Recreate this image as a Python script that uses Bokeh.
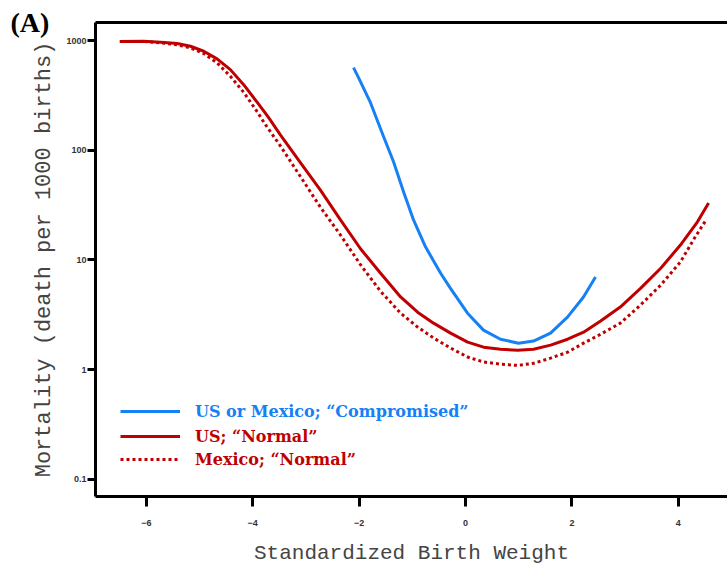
from bokeh.plotting import figure
from bokeh.models import (FixedTicker, BasicTickFormatter, LinearAxis, Legend,
                          LegendItem, Range1d)
from bokeh.embed import file_html
from bokeh.resources import INLINE

# ---- data ----
x_us = [-6.5, -6.05, -5.73, -5.42, -5.17, -4.92, -4.67, -4.42, -4.17, -3.91, -3.70,
        -3.48, -3.1, -2.73, -2.35, -1.97, -1.6, -1.22, -0.9, -0.6, -0.28, 0.04,
        0.34, 0.66, 0.98, 1.28, 1.6, 1.92, 2.22, 2.54, 2.91, 3.29, 3.67, 4.04,
        4.36, 4.57]
y_us = [990, 994, 973, 946, 894, 805, 686, 547, 399, 273, 199,
        139, 77, 43.6, 23.2, 12.6, 7.6, 4.6, 3.34, 2.65, 2.15, 1.78,
        1.60, 1.53, 1.50, 1.53, 1.67, 1.89, 2.19, 2.77, 3.72, 5.5, 8.4, 13.7,
        22.3, 33.2]

x_mx = [-6.49, -6.05, -5.73, -5.42, -5.17, -4.92, -4.67, -4.42, -4.17, -3.92, -3.76,
        -3.48, -3.1, -2.73, -2.35, -1.97, -1.6, -1.22, -0.9, -0.6, -0.28, 0.04,
        0.34, 0.66, 0.98, 1.28, 1.6, 1.92, 2.22, 2.54, 2.91, 3.29, 3.67, 4.04,
        4.32, 4.51]
y_mx = [990, 988, 961, 921, 865, 767, 631, 475, 340, 227, 172,
        110, 57.5, 30.5, 16.9, 9.0, 5.2, 3.27, 2.44, 1.94, 1.57, 1.30,
        1.17, 1.12, 1.09, 1.14, 1.27, 1.44, 1.74, 2.10, 2.65, 3.88, 5.9, 9.6,
        16.3, 22.7]

x_comp = [-2.105, -2.011, -1.786, -1.541, -1.353, -1.165, -0.977, -0.752, -0.47,
          -0.282, 0.038, 0.338, 0.658, 0.996, 1.278, 1.598, 1.917, 2.218, 2.444]
y_comp = [571, 462, 273, 134, 78.9, 42.0, 23.2, 13.2, 7.6,
          5.5, 3.27, 2.29, 1.89, 1.74, 1.82, 2.15, 3.01, 4.59, 6.99]

x_ticks = [-6, -4, -2, 0, 2, 4]
y_ticks = [0.1, 1, 10, 100, 1000]
legend_labels = ["US or Mexico; \u201cCompromised\u201d", "US; \u201cNormal\u201d",
                 "Mexico; \u201cNormal\u201d"]
x_title = "Standardized Birth Weight"
y_title = "Mortality (death per 1000 births)"
panel_tag = "(A)"

X_START, X_END = -6.955, 4.925
Y_START, Y_END = 0.0693, 1473

BLUE = "#1680f5"
RED = "#c00000"

p = figure(width=727, height=569, output_backend="svg", toolbar_location=None,
           y_axis_type="log",
           x_range=Range1d(X_START, X_END), y_range=Range1d(Y_START, Y_END),
           min_border_left=95, min_border_right=0, min_border_top=22,
           min_border_bottom=73)
p.outline_line_color = None
p.grid.visible = False
p.background_fill_color = "white"
p.border_fill_color = "white"

# panel tag "(A)" as the title, pulled into the top-left corner
p.title.text = panel_tag
p.title.align = "left"
p.title.offset = -85
p.title.standoff = -30
p.title.text_font = "Liberation Serif"
p.title.text_font_style = "bold"
p.title.text_font_size = "28px"
p.title.text_color = "black"

# x axis
xa = p.xaxis[0]
xa.ticker = FixedTicker(ticks=x_ticks)
xa.axis_line_width = 3
xa.major_tick_line_width = 3
xa.major_tick_out = 10
xa.major_tick_in = 0
xa.minor_tick_line_color = None
xa.major_label_text_font = "Liberation Sans"
xa.major_label_text_font_style = "bold"
xa.major_label_text_font_size = "9px"
xa.major_label_text_color = "#333333"
xa.major_label_standoff = 13
xa.axis_label = x_title
xa.axis_label_text_font = "Liberation Mono"
xa.axis_label_text_font_style = "normal"
xa.axis_label_text_font_size = "21px"
xa.axis_label_text_color = "#444444"
xa.axis_label_standoff = 13

# y axis
ya = p.yaxis[0]
ya.ticker = FixedTicker(ticks=y_ticks)
ya.formatter = BasicTickFormatter()
ya.axis_line_width = 3
ya.major_tick_line_width = 3
ya.major_tick_out = 8
ya.major_tick_in = 0
ya.minor_tick_line_color = None
ya.major_label_text_font = "Liberation Sans"
ya.major_label_text_font_style = "bold"
ya.major_label_text_font_size = "9px"
ya.major_label_text_color = "#333333"
ya.major_label_standoff = 1
ya.axis_label = y_title
ya.axis_label_text_font = "Liberation Mono"
ya.axis_label_text_font_style = "normal"
ya.axis_label_text_font_size = "22px"
ya.axis_label_text_color = "#444444"
ya.axis_label_standoff = 6

# top border line
top = LinearAxis(axis_line_width=3, major_tick_line_color=None,
                 minor_tick_line_color=None, major_label_text_font_size="0px",
                 ticker=FixedTicker(ticks=[]))
p.add_layout(top, "above")

r_comp = p.line(x_comp, y_comp, line_color=BLUE, line_width=3, line_join="round")
r_us = p.line(x_us, y_us, line_color=RED, line_width=3, line_join="round")
r_mx = p.line(x_mx, y_mx, line_color=RED, line_width=3, line_dash="3 3",
              line_join="round")

for r, lab, col, yl in [(r_comp, legend_labels[0], BLUE, 75),
                        (r_us, legend_labels[1], RED, 50),
                        (r_mx, legend_labels[2], RED, 27)]:
    leg = Legend(items=[LegendItem(label=lab, renderers=[r])], location=(25, yl),
                 label_text_color=col, label_text_font="DejaVu Serif",
                 label_text_font_style="bold", label_text_font_size="16px",
                 glyph_width=60, glyph_height=20, label_standoff=15, padding=0,
                 margin=0, border_line_color=None, background_fill_alpha=0,
                 spacing=0)
    p.add_layout(leg)

open("out.html", "w").write(file_html(p, INLINE))
